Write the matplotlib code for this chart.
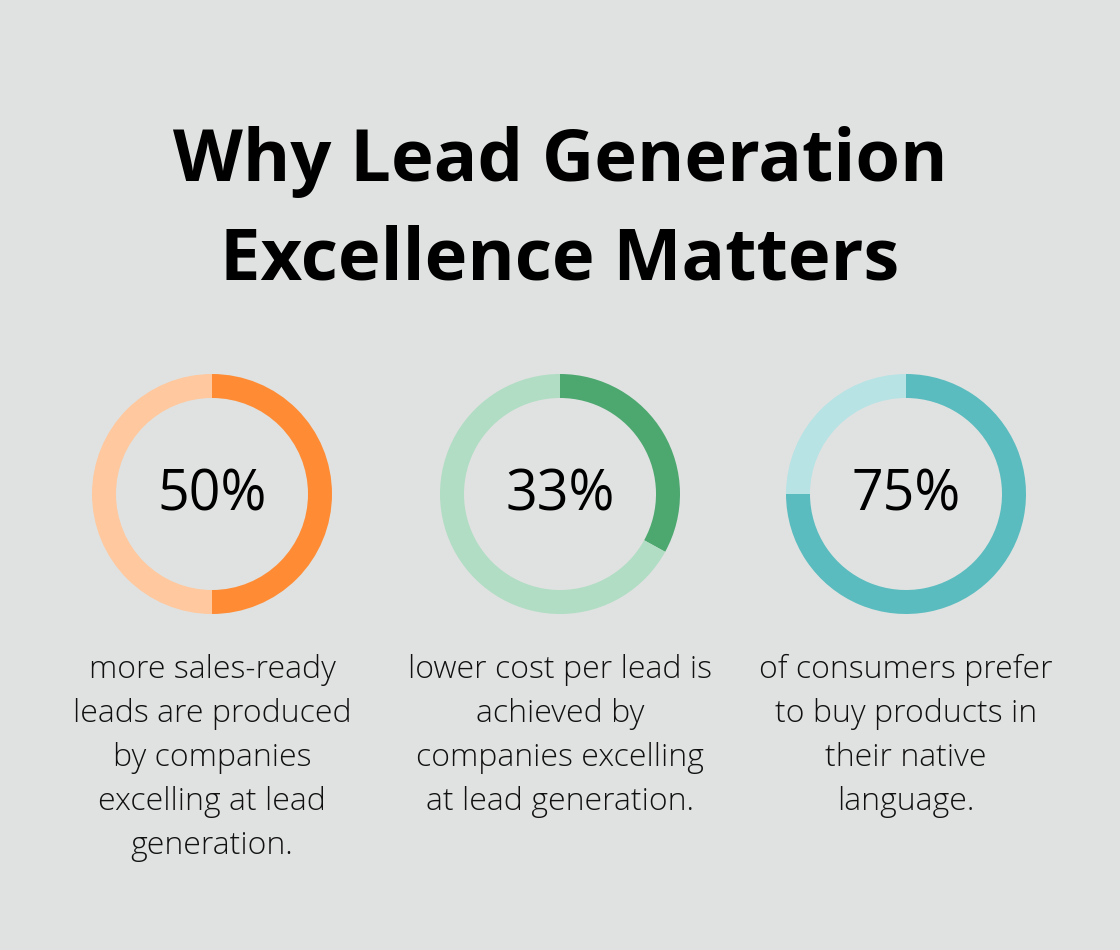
import matplotlib
matplotlib.use("Agg")
import matplotlib.pyplot as plt

title_lines = ["Why Lead Generation", "Excellence Matters"]
values = [50, 33, 75]
labels = ["50%", "33%", "75%"]
descriptions = [
    "more sales-ready\nleads are produced\nby companies\nexcelling at lead\ngeneration.",
    "lower cost per lead is\nachieved by\ncompanies excelling\nat lead generation.",
    "of consumers prefer\nto buy products in\ntheir native\nlanguage.",
]
dark_colors = ["#FF8C35", "#4DA870", "#5ABCBF"]
light_colors = ["#FFC89E", "#B0DDC3", "#B8E3E5"]

W, H = 1120, 950
bg = "#E0E2E1"
fig = plt.figure(figsize=(W / 100, H / 100), dpi=100, facecolor=bg)

fig.text(560 / W, 1 - 162 / H, title_lines[0], ha="center", va="center",
         fontsize=52, fontweight="bold", family="Open Sans", color="#000000")
fig.text(560 / W, 1 - 260 / H, title_lines[1], ha="center", va="center",
         fontsize=52, fontweight="bold", family="Open Sans", color="#000000")

centers_x = [212, 560, 906]
cy = 494
R = 120
for i, (v, lab, desc) in enumerate(zip(values, labels, descriptions)):
    cx = centers_x[i]
    ax = fig.add_axes([(cx - R) / W, (H - cy - R) / H, 2 * R / W, 2 * R / H])
    ax.pie([v, 100 - v], colors=[dark_colors[i], light_colors[i]], startangle=90,
           counterclock=False, radius=1.0,
           wedgeprops=dict(width=0.2, edgecolor="none", linewidth=0))
    ax.set_xlim(-1, 1)
    ax.set_ylim(-1, 1)
    ax.set_aspect("equal")
    ax.axis("off")
    ax.text(0, -0.02, lab, ha="center", va="center", fontsize=40, fontweight="medium",
            family="Open Sans", color="#000000")
    lines = desc.split("\n")
    for j, line in enumerate(lines):
        fig.text(cx / W, 1 - (670 + 44 * j) / H, line, ha="center", va="center",
                 fontsize=23, fontweight="light", family="Open Sans", color="#111111")

fig.savefig("out.png", dpi=100, facecolor=bg)
